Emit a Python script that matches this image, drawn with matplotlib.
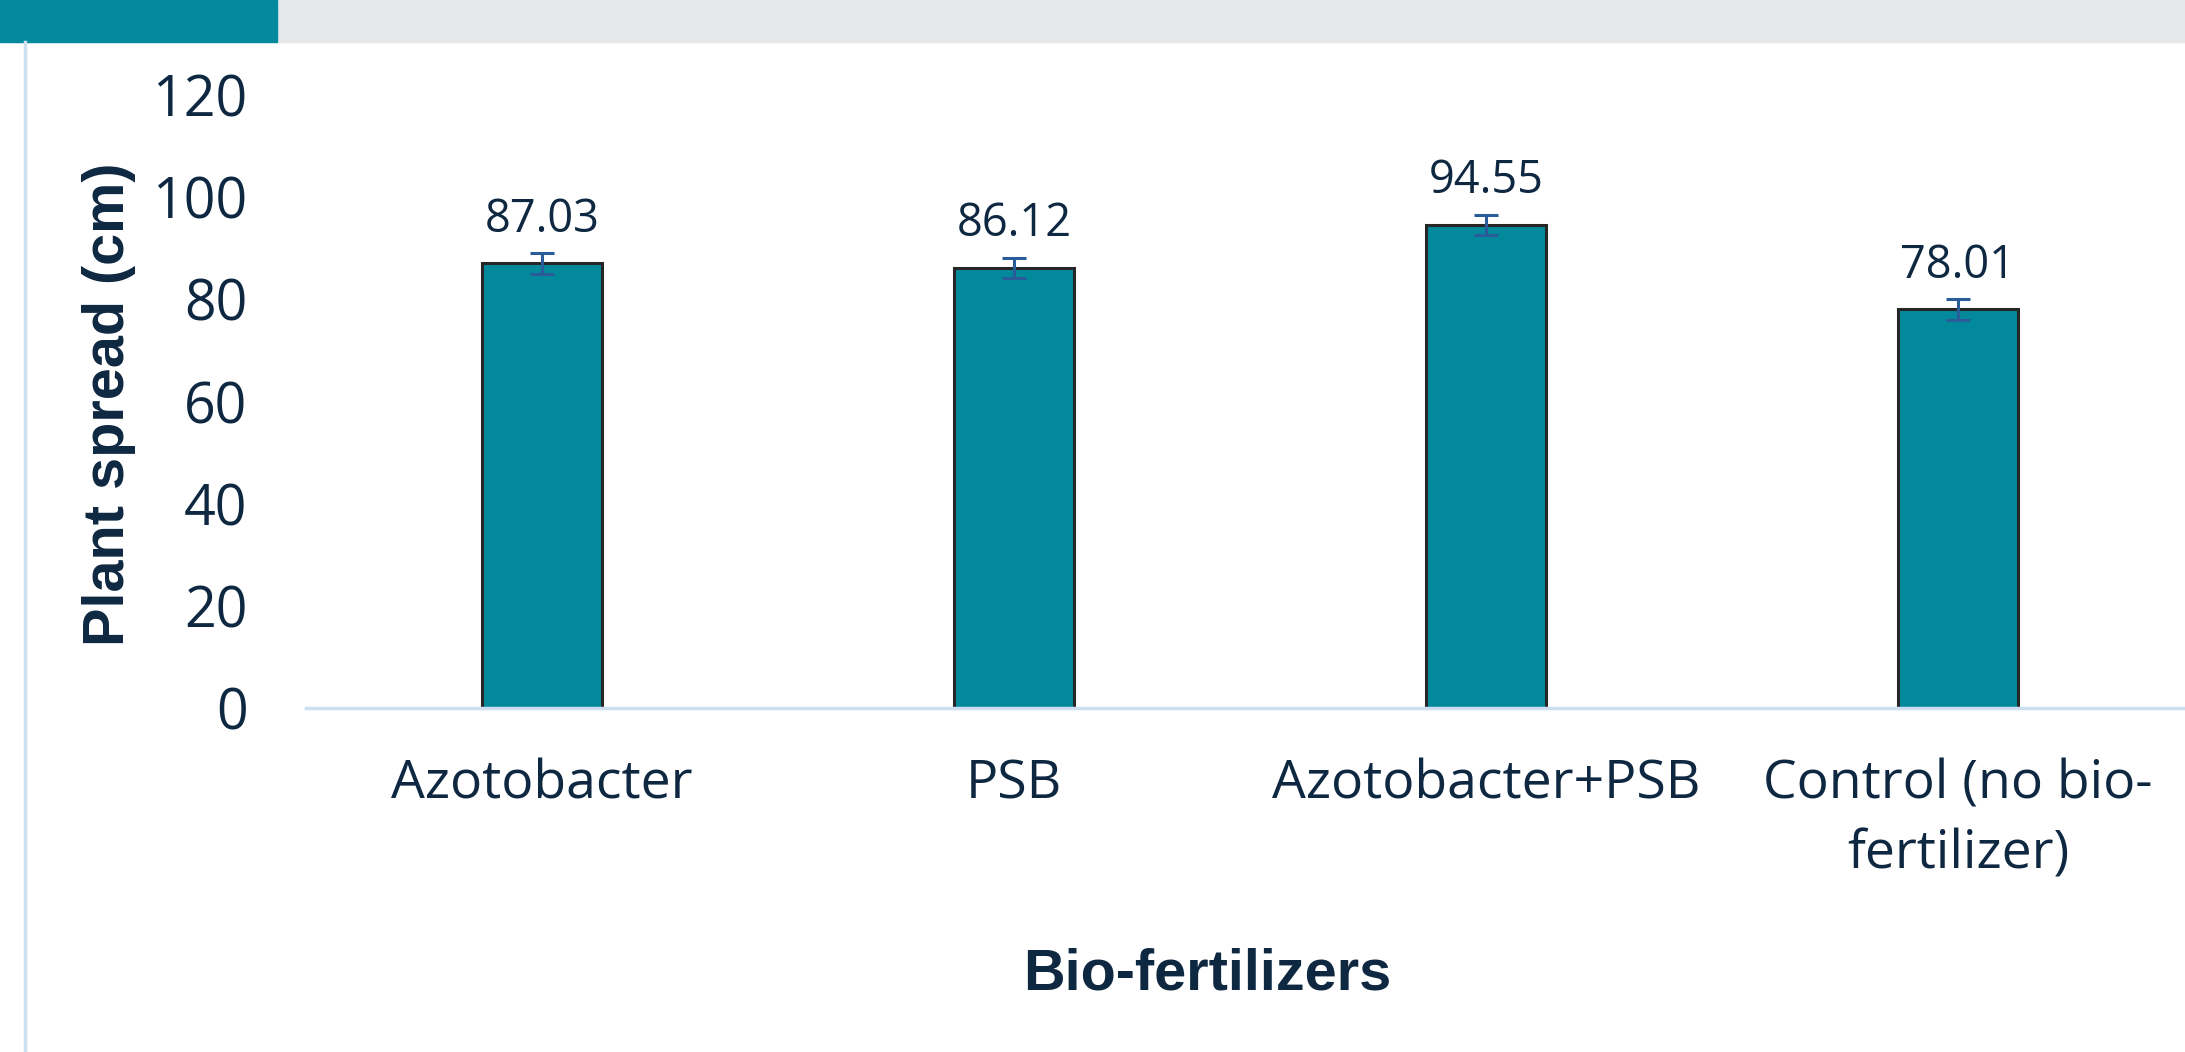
import numpy as np
import matplotlib
matplotlib.use("Agg")
import matplotlib.pyplot as plt
from matplotlib.patches import Rectangle

# data
categories = ["Azotobacter", "PSB", "Azotobacter+PSB", "Control (no bio-\nfertilizer)"]
spread = [87.03, 86.12, 94.55, 78.01]
errors = [2.0, 2.0, 2.0, 2.0]
yticks = [0, 20, 40, 60, 80, 100, 120]

navy = "#0E2841"
teal = "#02899C"
light = "#CCE0F2"

plt.rcParams["font.family"] = ["Open Sans", "DejaVu Sans"]

W, H = 2185, 1052
fig = plt.figure(figsize=(W / 100, H / 100), dpi=100)

# header band with teal tab
fig.patches.append(Rectangle((0, 1 - 42 / H), 1, 42 / H, transform=fig.transFigure,
                             color="#E6E7EA", zorder=0))
fig.patches.append(Rectangle((0, 1 - 42 / H), 277 / W, 42 / H, transform=fig.transFigure,
                             color=teal, zorder=1))
# thin left rule
fig.add_artist(plt.Line2D([25 / W, 25 / W], [0, 1 - 42 / H], transform=fig.transFigure,
                          color=light, lw=2.5))

ax = fig.add_axes([306 / W, 344 / H, 1888 / W, 613 / H])
x = np.arange(len(categories))
ax.bar(x, spread, width=0.256, color=teal, edgecolor="#262626", linewidth=2.2, zorder=2)
ax.errorbar(x, spread, yerr=errors, fmt="none", ecolor="#2A5C9A", elinewidth=2.2,
            capsize=8.5, capthick=2.2, zorder=3)
for xi, v in zip(x, spread):
    ax.annotate(f"{v:.2f}", (xi, v), xytext=(0, 31.5), textcoords="offset points",
                ha="center", va="center", fontsize=32.5, color=navy)

ax.set_xlim(-0.5, 3.5)
ax.set_ylim(0, 120)
ax.set_yticks(yticks)
ax.set_xticks(x)
ax.set_xticklabels(categories, linespacing=1.4)
ax.tick_params(axis="y", length=0, pad=42, labelsize=40, labelcolor=navy)
ax.tick_params(axis="x", length=0, pad=36, labelsize=38.5, labelcolor=navy)
for s in ["top", "right", "left"]:
    ax.spines[s].set_visible(False)
ax.spines["bottom"].set_color(light)
ax.spines["bottom"].set_linewidth(2.5)

fig.text(109 / W, 1 - 404 / H, "Plant spread (cm)", rotation=90, ha="center", va="center",
         fontsize=41.5, fontweight="bold", color=navy, family="Liberation Sans")
fig.text(1207 / W, 1 - 974 / H, "Bio-fertilizers", ha="center", va="center",
         fontsize=41.5, fontweight="bold", color=navy, family="Liberation Sans")

fig.savefig("out.png", dpi=100)
